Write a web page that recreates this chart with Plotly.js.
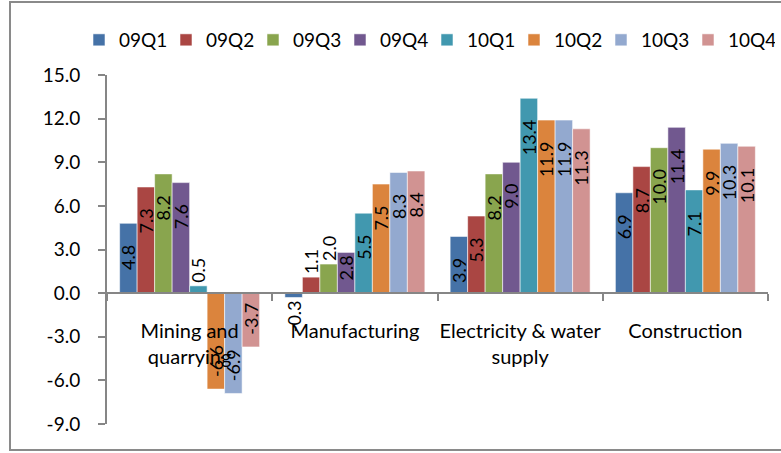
<!DOCTYPE html>
<html>
<head>
<meta charset="utf-8">
<script src="https://cdn.plot.ly/plotly-3.0.1.min.js"></script>
<style>
  html, body { margin: 0; padding: 0; background: #fff; }
  #chart { width: 781px; height: 453px; }
</style>
</head>
<body>
<div id="chart"></div>
<script>
// Sectors on the category axis
const categories = ['Mining and<br>quarrying', 'Manufacturing', 'Electricity & water<br>supply', 'Construction'];

// Quarterly growth per sector (%)
const q09Q1 = [4.8, -0.3, 3.9, 6.9];
const q09Q2 = [7.3, 1.1, 5.3, 8.7];
const q09Q3 = [8.2, 2.0, 8.2, 10.0];
const q09Q4 = [7.6, 2.8, 9.0, 11.4];
const q10Q1 = [0.5, 5.5, 13.4, 7.1];
const q10Q2 = [-6.6, 7.5, 11.9, 9.9];
const q10Q3 = [-6.9, 8.3, 11.9, 10.3];
const q10Q4 = [-3.7, 8.4, 11.3, 10.1];

const seriesNames = ['09Q1', '09Q2', '09Q3', '09Q4', '10Q1', '10Q2', '10Q3', '10Q4'];
const seriesValues = [q09Q1, q09Q2, q09Q3, q09Q4, q10Q1, q10Q2, q10Q3, q10Q4];
const seriesColors = ['#4572A7', '#AA4643', '#89A54E', '#71588F', '#4198AF', '#DB843D', '#93A9CF', '#D19392'];

// Value axis ticks, written with a plain hyphen for negatives
const yTickValues = [-9, -6, -3, 0, 3, 6, 9, 12, 15];
const yTickLabels = ['-9.0', '-6.0', '-3.0', '0.0', '3.0', '6.0', '9.0', '12.0', '15.0'];

const FONT = 'Lato, "Open Sans", sans-serif';
const AXIS_GREY = '#868686';
const NBSP = '\u00a0';

// Short bars carry their label outside; longer ones inside, set a little back from the bar end.
function labelPosition(v) { return Math.abs(v) < 2.5 ? 'outside' : 'inside'; }
function labelText(v) {
  const s = v.toFixed(1);
  if (labelPosition(v) === 'outside') return s;
  if (v >= 3.5) return s + NBSP.repeat(4);
  if (v <= -3.5) return NBSP.repeat(2) + s;
  return s;
}

const traces = seriesNames.map((name, i) => ({
  type: 'bar',
  name: name,
  x: categories,
  y: seriesValues[i],
  marker: { color: seriesColors[i], line: { color: 'rgba(255,255,255,0.55)', width: 1 } },
  text: seriesValues[i].map(labelText),
  textposition: seriesValues[i].map(labelPosition),
  textangle: -90,
  constraintext: 'none',
  cliponaxis: false,
  textfont: { family: FONT, size: 18, color: '#000' },
  insidetextanchor: 'end',
  hoverinfo: 'x+y+name'
}));

// plot area in pixels: x 107..768, y 75..424
const W = 661, H = 349, L = 107, T = 75;
const px = x => (x - L) / W;
const py = y => (T + H - y) / H;

const layout = {
  width: 781,
  height: 453,
  margin: { l: 107, r: 13, t: 75, b: 29, pad: 0 },
  paper_bgcolor: '#fff',
  plot_bgcolor: 'rgba(0,0,0,0)',
  font: { family: FONT, size: 19, color: '#000' },
  barmode: 'group',
  bargap: 0.153,
  bargroupgap: 0,
  showlegend: true,
  legend: {
    orientation: 'h',
    x: px(79), xanchor: 'left',
    y: py(21), yanchor: 'top',
    font: { family: FONT, size: 19, color: '#000' },
    itemwidth: 30,
    entrywidth: 42,
    entrywidthmode: 'pixels',
    bgcolor: 'rgba(0,0,0,0)',
    traceorder: 'normal'
  },
  xaxis: {
    type: 'category',
    anchor: 'free',
    position: 9 / 24,
    showline: true,
    linecolor: AXIS_GREY,
    linewidth: 2,
    ticks: 'outside',
    tickson: 'boundaries',
    ticklen: 7,
    tickwidth: 2,
    tickcolor: AXIS_GREY,
    tickangle: 0,
    ticklabelstandoff: 20,
    showgrid: false,
    zeroline: false,
    tickfont: { family: FONT, size: 20, color: '#000' },
    fixedrange: true
  },
  yaxis: {
    range: [-9, 15],
    tickmode: 'array',
    tickvals: yTickValues,
    ticktext: yTickLabels,
    showline: true,
    linecolor: AXIS_GREY,
    linewidth: 2,
    ticks: 'outside',
    ticklen: 7,
    tickwidth: 2,
    tickcolor: AXIS_GREY,
    ticklabelstandoff: 14,
    showgrid: false,
    zeroline: false,
    tickfont: { family: FONT, size: 19, color: '#000' },
    fixedrange: true
  },
  shapes: [{
    type: 'rect', xref: 'paper', yref: 'paper', layer: 'below',
    x0: px(10), x1: px(800), y0: py(450), y1: py(2),
    line: { color: '#8a8a8a', width: 2 },
    fillcolor: 'rgba(0,0,0,0)'
  }]
};

Plotly.newPlot('chart', traces, layout, { displayModeBar: false, staticPlot: true });
</script>
</body>
</html>
